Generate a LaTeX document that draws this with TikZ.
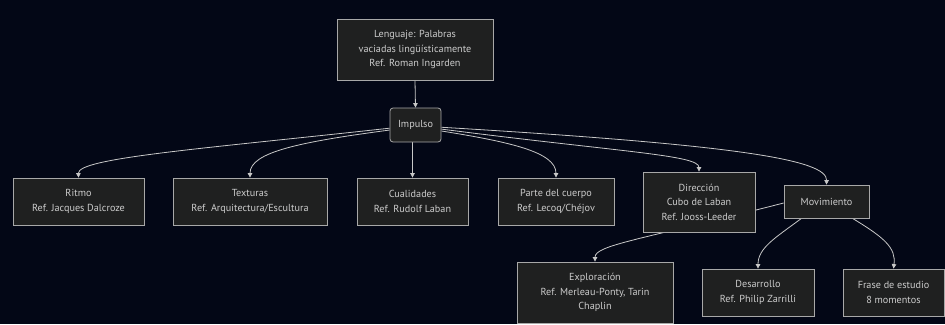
\documentclass[tikz,border=0pt]{standalone}
\usepackage{fontspec}
\setmainfont{PT Sans}
\usetikzlibrary{arrows.meta}
\definecolor{bgc}{HTML}{030716}
\definecolor{boxfill}{HTML}{1F2020}
\definecolor{boxline}{HTML}{A8A8A8}
\definecolor{txt}{HTML}{CCCCCC}
\definecolor{edgec}{HTML}{C8C8C8}
\pgfdeclarelayer{bglayer}
\pgfdeclarelayer{edgelayer}
\pgfsetlayers{bglayer,edgelayer,main}
\begin{document}
\begin{tikzpicture}[x=1pt,y=-1pt,
  box/.style={draw=boxline, fill=boxfill, line width=0.8pt, text=txt, align=center,
    font=\fontsize{10.2}{14.5}\selectfont, inner sep=0pt},
  conn/.style={draw=edgec, line width=0.8pt, -{Triangle[length=4.5pt,width=4.5pt]}}]
\useasboundingbox (0,0) rectangle (945,324);
\begin{pgfonlayer}{bglayer}
\fill[bgc] (0,0) rectangle (945,324);
\end{pgfonlayer}

\node[box, minimum width=156pt, minimum height=61pt] (len) at (415,49.5) {Lenguaje: Palabras\\vaciadas lingüísticamente\\Ref. Roman Ingarden};
\node[box, rounded corners=3pt, minimum width=51pt, minimum height=34pt] (imp) at (415.5,125) {Impulso};
\node[box, minimum width=131pt, minimum height=47pt] (rit) at (78.5,201.5) {Ritmo\\Ref. Jacques Dalcroze};
\node[box, minimum width=154pt, minimum height=47pt] (tex) at (250,201.5) {Texturas\\Ref. Arquitectura/Escultura};
\node[box, minimum width=111pt, minimum height=47pt] (cua) at (412.5,201.5) {Cualidades\\Ref. Rudolf Laban};
\node[box, minimum width=116pt, minimum height=47pt] (par) at (556,201.5) {Parte del cuerpo\\Ref. Lecoq/Chéjov};
\node[box, minimum width=112pt, minimum height=60pt] (dir) at (699,202) {Dirección\\Cubo de Laban\\Ref. Jooss-Leeder};
\node[box, minimum width=85pt, minimum height=33pt] (mov) at (826.5,201.5) {Movimiento};
\node[box, minimum width=156pt, minimum height=61pt] (exp) at (595,292.5) {Exploración\\Ref. Merleau-Ponty, Tarin\\Chaplin};
\node[box, minimum width=112pt, minimum height=47pt] (des) at (758,292.5) {Desarrollo\\Ref. Philip Zarrilli};
\node[box, minimum width=101pt, minimum height=47pt] (fra) at (893.5,292.5) {Frase de estudio\\8 momentos};

\begin{pgfonlayer}{edgelayer}
\draw[conn] (len.south) -- (imp.north);
\draw[conn] (imp.187) .. controls (200,149) and (78,158) .. (rit.north);
\draw[conn] (imp.191) .. controls (300,142) and (250,152) .. (tex.north);
\draw[conn] (cua.north |- imp.south) -- (cua.north);
\draw[conn] (imp.347) .. controls (510,142) and (556,152) .. (par.north);
\draw[conn] (imp.351) .. controls (620,152) and (699,155) .. (dir.north);
\draw[conn] (imp.355) .. controls (740,145) and (827,160) .. (mov.north);
\draw[conn] (mov.182) .. controls (640,240) and (595,245) .. (exp.north);
\draw[conn] (mov.214) .. controls (775,238) and (758,248) .. (des.north);
\draw[conn] (mov.327) .. controls (885,238) and (896,248) .. (fra.north);
\end{pgfonlayer}
\end{tikzpicture}
\end{document}
